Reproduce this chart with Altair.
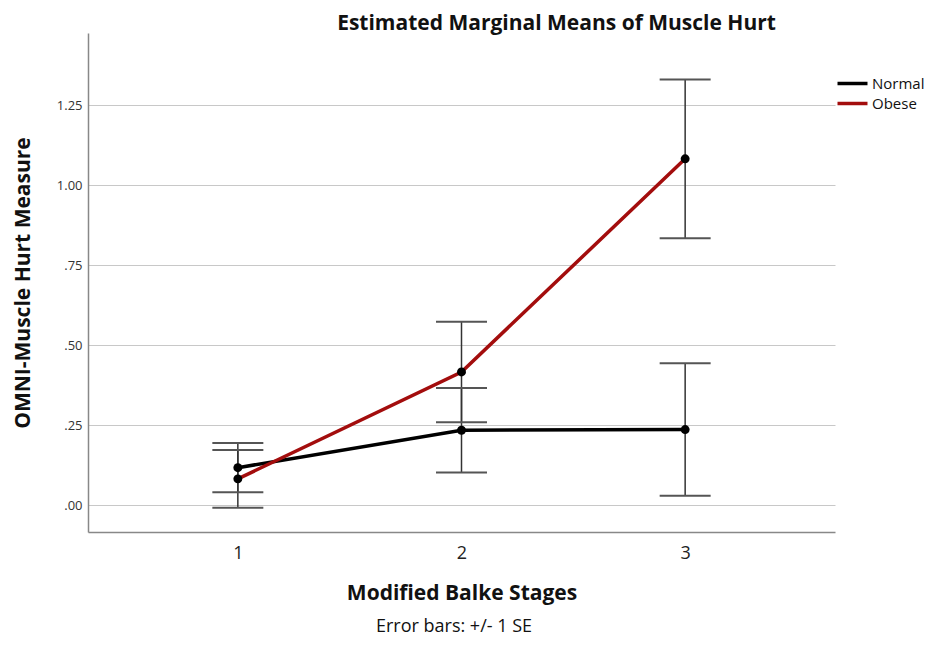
import altair as alt
import pandas as pd

stages = [1, 2, 3]
groups = ["Normal", "Obese"]
normal_mean = [0.117, 0.234, 0.236]
normal_se = [0.077, 0.132, 0.207]
obese_mean = [0.082, 0.416, 1.082]
obese_se = [0.090, 0.157, 0.248]
colors = ["#000000", "#a30d0d"]
y_ticks = [0, 0.25, 0.5, 0.75, 1.0, 1.25]

rows = []
for g, means, ses in [("Normal", normal_mean, normal_se), ("Obese", obese_mean, obese_se)]:
    for st, m, s in zip(stages, means, ses):
        rows.append({"stage": st, "group": g, "mean": m, "lo": m - s, "hi": m + s})
df = pd.DataFrame(rows)

TFONT = "Open Sans"
LFONT = "Open Sans"

xscale = alt.Scale(domain=[0.33, 3.67], nice=False, zero=False)
yscale = alt.Scale(domain=[-0.084, 1.475], nice=False, zero=False)

xaxis = alt.Axis(values=stages, format="d", title="Modified Balke Stages", grid=False, ticks=False,
                 labelFontSize=18, labelFont=LFONT, labelColor="#222", labelPadding=12,
                 titleFontSize=21, titleFont=TFONT, titleFontWeight="bold", titleColor="#111",
                 titlePadding=20, domainColor="#888", domainWidth=1.5)
yaxis = alt.Axis(values=y_ticks,
                 labelExpr="datum.value < 1 ? substring(format(datum.value, '.2f'), 1) : format(datum.value, '.2f')",
                 title="OMNI-Muscle Hurt Measure", grid=True, gridColor="#c8c8c8", gridWidth=1,
                 ticks=False, labelFontSize=13, labelFont=LFONT, labelColor="#333", labelPadding=6,
                 titleFontSize=21, titleFont=TFONT, titleFontWeight="bold", titleColor="#111",
                 titlePadding=23, domainColor="#888", domainWidth=1.5)


def X():
    return alt.X("stage:Q", scale=xscale, axis=xaxis)


def Y(field):
    return alt.Y(f"{field}:Q", scale=yscale, axis=yaxis)


base = alt.Chart(df)

stem = base.mark_rule(color="#333", strokeWidth=1.5).encode(x=X(), y=Y("lo"), y2="hi:Q")
cap_lo = base.mark_tick(orient="horizontal", size=51, thickness=2, color="#555", opacity=1).encode(x=X(), y=Y("lo"))
cap_hi = base.mark_tick(orient="horizontal", size=51, thickness=2, color="#555", opacity=1).encode(x=X(), y=Y("hi"))

lines = base.mark_line(strokeWidth=3.5).encode(
    x=X(), y=Y("mean"),
    color=alt.Color("group:N", scale=alt.Scale(domain=groups, range=colors),
                    legend=alt.Legend(title=None, orient="none", legendX=757, legendY=43,
                                      symbolType="M-3,0H3", symbolSize=100, symbolStrokeWidth=3.5,
                                      labelFontSize=15, labelFont=TFONT, labelColor="#111",
                                      labelOffset=12, rowPadding=4, padding=0)),
    detail="group:N",
)
points = base.mark_point(filled=True, size=80, color="#000", opacity=1, shape="circle").encode(x=X(), y=Y("mean"))

note_df = pd.DataFrame({"t": ["Error bars: +/- 1 SE"]})
note = alt.Chart(note_df).mark_text(fontSize=18, font=TFONT, color="#111", align="center", baseline="middle").encode(
    text="t:N", x=alt.value(366), y=alt.value(594))

chart = alt.layer(stem, cap_lo, cap_hi, lines, points, note).properties(
    width=747, height=499,
    title=alt.Title("Estimated Marginal Means of Muscle Hurt", fontSize=21, font=TFONT, fontWeight="bold",
                    color="#111", dx=95, offset=-1),
    autosize=alt.AutoSizeParams(type="none"),
    padding={"left": 80, "top": 25, "right": 94, "bottom": 112},
).configure_view(stroke=None)

chart.save("out.html", embed_options={"renderer": "svg", "actions": False})
